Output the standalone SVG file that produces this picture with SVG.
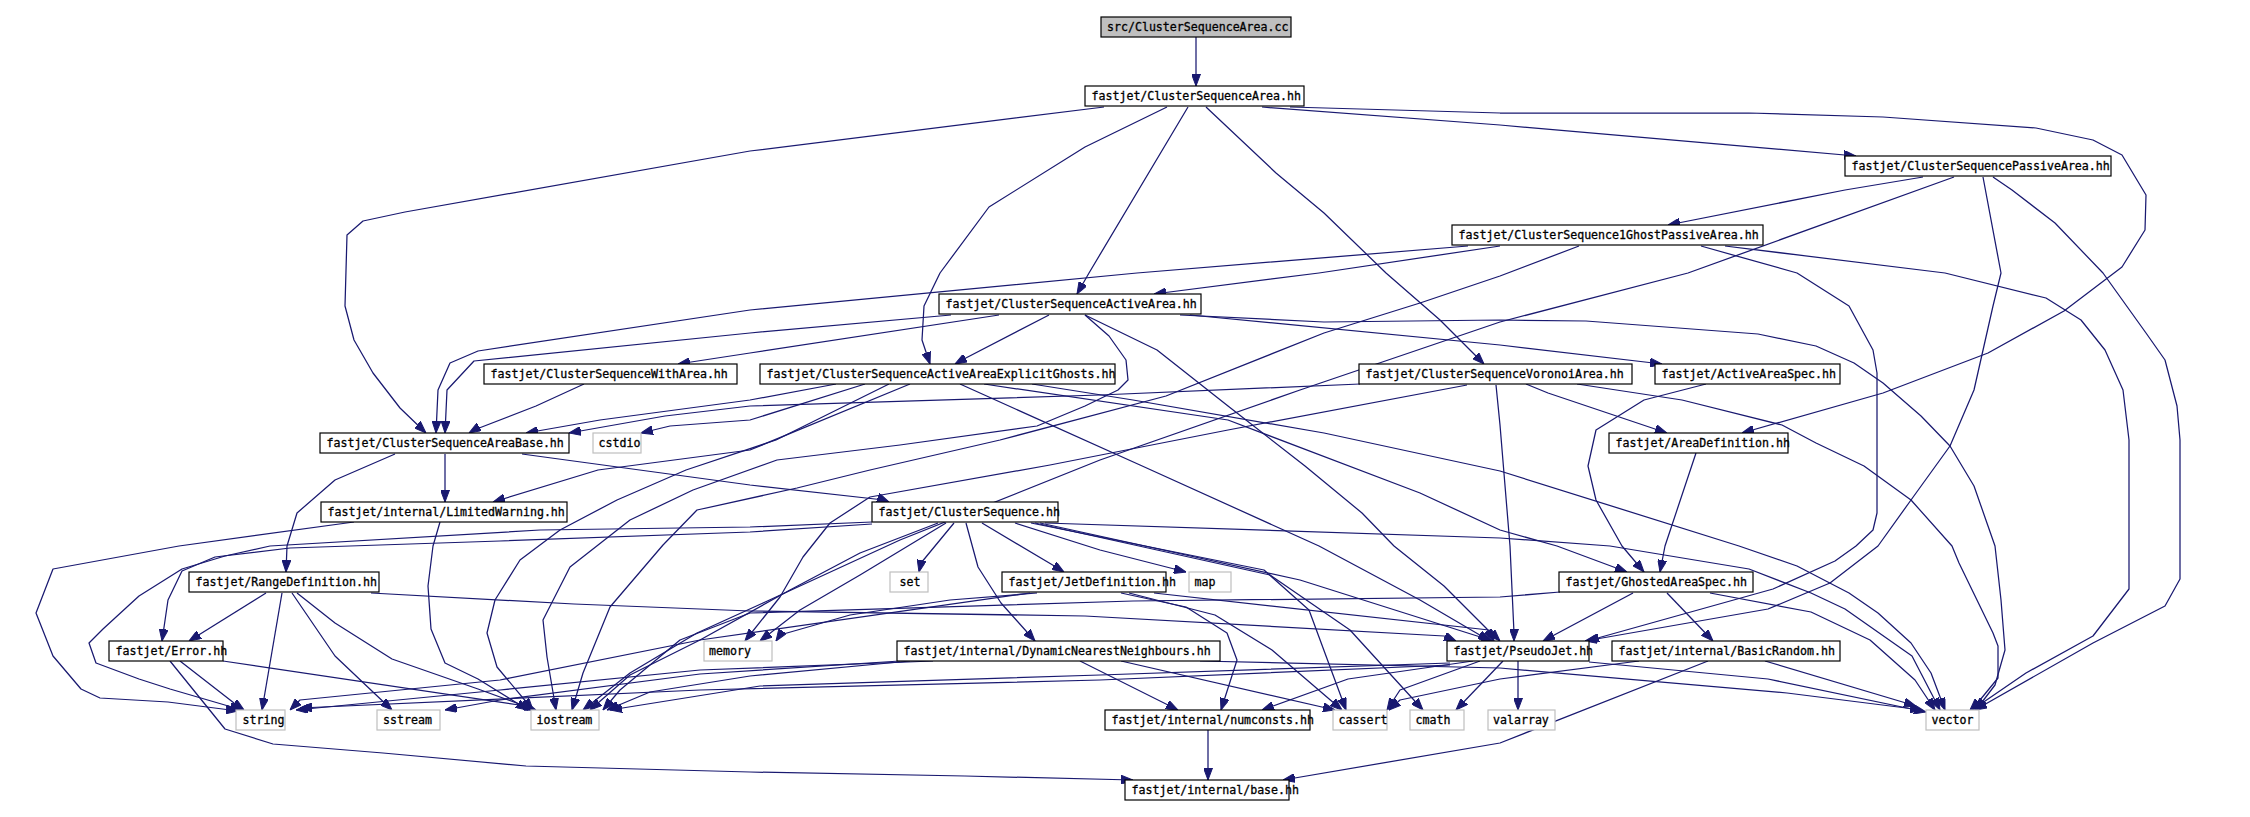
<svg xmlns="http://www.w3.org/2000/svg" width="2250" height="817" viewBox="0 0 2250 817">
<style>
.n rect{fill:#fff;stroke:#000;stroke-width:1.2}
.x rect{fill:#fff;stroke:#bfbfbf;stroke-width:1.2}
.r rect{fill:#bfbfbf;stroke:#000;stroke-width:1.2}
text{font-family:"DejaVu Sans Mono","Liberation Mono",monospace;font-size:11.6px;fill:#000;stroke:#000;stroke-width:0.3}
#edges path{fill:none;stroke:#191970;stroke-width:1.25;stroke-linejoin:round;marker-end:url(#ah)}
</style>
<defs>
<marker id="ah" markerUnits="userSpaceOnUse" markerWidth="12" markerHeight="9" viewBox="0 0 12 9" refX="12" refY="4.5" orient="auto">
<path d="M0,0 L12,4.5 L0,9 z" fill="#191970" stroke="#191970" stroke-width="1"/>
</marker>
</defs>
<rect width="2250" height="817" fill="#fff"/>
<g id="edges">
<path d="M1196,37 L1196,86"/>
<path d="M1104,107 L750,151 L405,212 L363,221 L347,235 L345,306 L354,340 L373,373 L400,408 L426,433"/>
<path d="M1167,107 L1085,147 L989,207 L940,273 L924,306 L922,340 L930,364"/>
<path d="M1188,107 L1089,273 L1077,294"/>
<path d="M1206,107 L1276,173 L1324,213 L1386,273 L1440,320 L1484,364"/>
<path d="M1290,107 L1500,113 L1749,113 L1883,117 L2036,128 L2093,140 L2122,155 L2146,195 L2145,230 L2122,267 L2064,311 L1988,353 L1883,393 L1742,433"/>
<path d="M1262,107 L1500,125 L1856,156"/>
<path d="M1923,177 L1845,190 L1668,225"/>
<path d="M1954,177 L1688,273 L1500,322 L1300,390 L1100,460 L900,540 L763,603 L697,633 L630,673 L583,710"/>
<path d="M1983,177 L2001,273 L1993,306 L1974,390 L1950,446 L1911,500 L1878,546 L1830,583 L1768,609 L1585,641"/>
<path d="M1993,177 L2012,190 L2055,223 L2103,273 L2146,333 L2165,360 L2177,406 L2180,440 L2180,579 L2165,606 L2093,643 L1975,710"/>
<path d="M1468,246 L1137,273 L750,310 L478,351 L450,363 L438,390 L436,433"/>
<path d="M1500,246 L1319,273 L1154,294"/>
<path d="M1579,246 L1500,276 L1420,303 L1324,333 L1166,396 L1000,440 L870,470 L797,488 L697,510 L663,545 L610,607 L583,673 L572,710"/>
<path d="M1701,246 L1797,273 L1849,306 L1873,350 L1877,373 L1877,513 L1873,530 L1856,546 L1835,561 L1773,589 L1587,641"/>
<path d="M1725,246 L1945,273 L2046,298 L2081,320 L2105,350 L2123,390 L2129,440 L2129,589 L2093,636 L2026,673 L1972,710"/>
<path d="M951,315 L750,333 L474,361 L447,390 L445,433"/>
<path d="M999,315 L750,353 L678,364"/>
<path d="M1049,315 L962,360 L955,364"/>
<path d="M1085,315 L1157,350 L1228,406 L1305,466 L1362,513 L1394,546 L1444,586 L1487,629 L1494,641"/>
<path d="M1085,315 L1109,336 L1126,360 L1128,380 L1118,390 L1085,406 L1037,426 L900,445 L777,460 L693,490 L630,520 L570,567 L543,620 L547,657 L556,710"/>
<path d="M1180,315 L1324,322 L1500,320 L1586,321 L1758,334 L1816,346 L1854,363 L1883,383 L1921,416 L1950,446 L1974,486 L1988,526 L1995,546 L2001,600 L2005,650 L1995,685 L1976,710"/>
<path d="M1190,315 L1500,345 L1662,364"/>
<path d="M584,384 L536,406 L474,430 L469,433"/>
<path d="M836,384 L750,400 L600,420 L526,433"/>
<path d="M865,384 L750,420 L670,426 L641,433"/>
<path d="M910,384 L750,450 L598,470 L493,502"/>
<path d="M889,384 L776,440 L686,470 L617,500 L560,530 L520,560 L495,600 L487,633 L497,667 L533,710"/>
<path d="M960,384 L1140,465 L1319,546 L1420,600 L1490,641"/>
<path d="M984,384 L1228,420 L1420,493 L1500,530 L1557,546 L1627,572"/>
<path d="M1032,384 L1133,400 L1324,433 L1500,471 L1739,546 L1797,566 L1849,593 L1878,613 L1911,643 L1931,673 L1945,710"/>
<path d="M1360,384 L1100,395 L750,406 L665,416 L569,433"/>
<path d="M1467,385 L1228,430 L1050,465 L870,497 L830,523 L803,557 L780,597 L745,641"/>
<path d="M1496,385 L1500,425 L1510,546 L1514,633 L1514,641"/>
<path d="M1526,384 L1548,393 L1658,430 L1667,433"/>
<path d="M1577,384 L1682,400 L1782,425 L1816,443 L1864,466 L1911,500 L1952,546 L1959,563 L1993,633 L1998,646 L1998,678 L1980,700 L1970,710"/>
<path d="M1706,384 L1644,400 L1596,430 L1588,466 L1596,500 L1622,546 L1644,572"/>
<path d="M1696,453 L1665,546 L1660,572"/>
<path d="M445,454 L445,502"/>
<path d="M395,454 L335,480 L297,513 L287,546 L286,572"/>
<path d="M522,454 L750,485 L884,500 L889,502"/>
<path d="M354,522 L179,546 L53,569 L36,613 L53,656 L81,689 L100,698 L168,702 L238,711"/>
<path d="M440,522 L433,546 L428,586 L431,629 L445,663 L478,679 L528,710"/>
<path d="M872,522 L750,527 L540,530 L270,546 L225,556 L182,569 L139,596 L103,629 L89,643 L96,663 L139,679 L170,689 L242,710"/>
<path d="M872,524 L750,532 L500,541 L290,548 L215,557 L182,571 L168,600 L162,641"/>
<path d="M954,523 L921,563 L919,572"/>
<path d="M966,523 L978,567 L1001,603 L1035,641"/>
<path d="M982,523 L1056,567 L1064,572"/>
<path d="M1015,523 L1100,550 L1186,572"/>
<path d="M1031,523 L1264,570 L1309,610 L1346,710"/>
<path d="M1035,523 L1270,575 L1350,630 L1423,710"/>
<path d="M1040,523 L1300,580 L1493,641"/>
<path d="M1045,523 L1500,538 L1610,546 L1749,569 L1811,593 L1845,609 L1912,656 L1940,710"/>
<path d="M938,523 L860,553 L790,590 L700,640 L630,675 L590,710"/>
<path d="M946,523 L860,575 L800,610 L760,641"/>
<path d="M266,593 L189,641"/>
<path d="M282,593 L262,710"/>
<path d="M292,593 L335,656 L392,710"/>
<path d="M297,593 L335,623 L392,659 L478,689 L536,710"/>
<path d="M371,593 L574,604 L750,611 L1085,616 L1444,636 L1456,641"/>
<path d="M180,661 L234,703 L244,710"/>
<path d="M170,661 L225,729 L273,744 L383,753 L526,766 L750,772 L965,776 L1133,780"/>
<path d="M223,661 L526,706 L532,710"/>
<path d="M1037,593 L950,600 L850,615 L780,635 L776,641"/>
<path d="M1030,593 L700,640 L500,680 L300,700 L290,710"/>
<path d="M1121,593 L1186,607 L1227,633 L1237,660 L1221,710"/>
<path d="M1129,593 L1215,615 L1272,650 L1342,710"/>
<path d="M1154,593 L1489,630 L1500,641"/>
<path d="M1633,593 L1543,641"/>
<path d="M1667,593 L1713,641"/>
<path d="M1560,592 L1500,597 L1133,601 L750,613 L680,640 L620,690 L603,710"/>
<path d="M1710,593 L1811,612 L1870,640 L1915,680 L1935,710"/>
<path d="M1080,661 L1178,710"/>
<path d="M1121,661 L1335,710"/>
<path d="M933,661 L700,670 L500,690 L296,710"/>
<path d="M910,661 L750,676 L650,692 L607,710"/>
<path d="M900,661 L700,674 L500,700 L445,710"/>
<path d="M1200,661 L1500,668 L1787,693 L1922,710"/>
<path d="M1473,661 L1348,679 L1262,710"/>
<path d="M1480,661 L1400,690 L1387,710"/>
<path d="M1503,661 L1456,710"/>
<path d="M1518,661 L1518,710"/>
<path d="M1589,662 L1768,679 L1926,712"/>
<path d="M1450,663 L1100,675 L760,686 L610,710"/>
<path d="M1450,665 L1100,680 L700,690 L300,708"/>
<path d="M1639,661 L1500,679 L1400,700 L1389,710"/>
<path d="M1708,661 L1500,743 L1283,780"/>
<path d="M1765,661 L1916,706"/>
<path d="M1208,730 L1208,780"/>
</g>
<g id="n0" class="r"><rect x="1101" y="17" width="190" height="20"/><text x="1107" y="31">src/ClusterSequenceArea.cc</text></g>
<g id="n1" class="n"><rect x="1085" y="86" width="219" height="20"/><text x="1091.5" y="100">fastjet/ClusterSequenceArea.hh</text></g>
<g id="n2" class="n"><rect x="1845" y="156" width="266" height="20"/><text x="1851.5" y="170">fastjet/ClusterSequencePassiveArea.hh</text></g>
<g id="n3" class="n"><rect x="1452" y="225" width="311" height="20"/><text x="1458.5" y="239">fastjet/ClusterSequence1GhostPassiveArea.hh</text></g>
<g id="n4" class="n"><rect x="939" y="294" width="262" height="20"/><text x="945.5" y="308">fastjet/ClusterSequenceActiveArea.hh</text></g>
<g id="n5" class="n"><rect x="484" y="364" width="253" height="20"/><text x="490.5" y="378">fastjet/ClusterSequenceWithArea.hh</text></g>
<g id="n6" class="n"><rect x="760" y="364" width="355" height="20"/><text x="766.5" y="378">fastjet/ClusterSequenceActiveAreaExplicitGhosts.hh</text></g>
<g id="n7" class="n"><rect x="1359" y="364" width="273" height="20"/><text x="1365.5" y="378">fastjet/ClusterSequenceVoronoiArea.hh</text></g>
<g id="n8" class="n"><rect x="1655" y="364" width="185" height="20"/><text x="1661.5" y="378">fastjet/ActiveAreaSpec.hh</text></g>
<g id="n9" class="n"><rect x="320" y="433" width="249" height="20"/><text x="326.5" y="447">fastjet/ClusterSequenceAreaBase.hh</text></g>
<g id="n10" class="x"><rect x="593" y="433" width="48" height="20"/><text x="598.5" y="447">cstdio</text></g>
<g id="n11" class="n"><rect x="1609" y="433" width="179" height="20"/><text x="1615.5" y="447">fastjet/AreaDefinition.hh</text></g>
<g id="n12" class="n"><rect x="321" y="502" width="246" height="20"/><text x="327.5" y="516">fastjet/internal/LimitedWarning.hh</text></g>
<g id="n13" class="n"><rect x="872" y="502" width="186" height="20"/><text x="878.5" y="516">fastjet/ClusterSequence.hh</text></g>
<g id="n14" class="n"><rect x="189" y="572" width="190" height="20"/><text x="195.5" y="586">fastjet/RangeDefinition.hh</text></g>
<g id="n15" class="x"><rect x="890" y="572" width="38" height="20"/><text x="899.5" y="586">set</text></g>
<g id="n16" class="n"><rect x="1002" y="572" width="164" height="20"/><text x="1008.5" y="586">fastjet/JetDefinition.hh</text></g>
<g id="n17" class="x"><rect x="1189" y="572" width="42" height="20"/><text x="1194.5" y="586">map</text></g>
<g id="n18" class="n"><rect x="1559" y="572" width="194" height="20"/><text x="1565.5" y="586">fastjet/GhostedAreaSpec.hh</text></g>
<g id="n19" class="n"><rect x="109" y="641" width="114" height="20"/><text x="115.5" y="655">fastjet/Error.hh</text></g>
<g id="n20" class="x"><rect x="704" y="641" width="68" height="20"/><text x="709" y="655">memory</text></g>
<g id="n21" class="n"><rect x="897" y="641" width="323" height="20"/><text x="903.5" y="655">fastjet/internal/DynamicNearestNeighbours.hh</text></g>
<g id="n22" class="n"><rect x="1447" y="641" width="142" height="20"/><text x="1453.5" y="655">fastjet/PseudoJet.hh</text></g>
<g id="n23" class="n"><rect x="1612" y="641" width="228" height="20"/><text x="1618.5" y="655">fastjet/internal/BasicRandom.hh</text></g>
<g id="n24" class="x"><rect x="236" y="710" width="49" height="20"/><text x="242.5" y="724">string</text></g>
<g id="n25" class="x"><rect x="377" y="710" width="63" height="20"/><text x="383" y="724">sstream</text></g>
<g id="n26" class="x"><rect x="531" y="710" width="68" height="20"/><text x="536.5" y="724">iostream</text></g>
<g id="n27" class="n"><rect x="1105" y="710" width="205" height="20"/><text x="1111.5" y="724">fastjet/internal/numconsts.hh</text></g>
<g id="n28" class="x"><rect x="1333" y="710" width="54" height="20"/><text x="1338.5" y="724">cassert</text></g>
<g id="n29" class="x"><rect x="1410" y="710" width="54" height="20"/><text x="1415.5" y="724">cmath</text></g>
<g id="n30" class="x"><rect x="1488" y="710" width="67" height="20"/><text x="1493" y="724">valarray</text></g>
<g id="n31" class="x"><rect x="1926" y="710" width="53" height="20"/><text x="1931.5" y="724">vector</text></g>
<g id="n32" class="n"><rect x="1125" y="780" width="164" height="20"/><text x="1131.5" y="794">fastjet/internal/base.hh</text></g>
</svg>
